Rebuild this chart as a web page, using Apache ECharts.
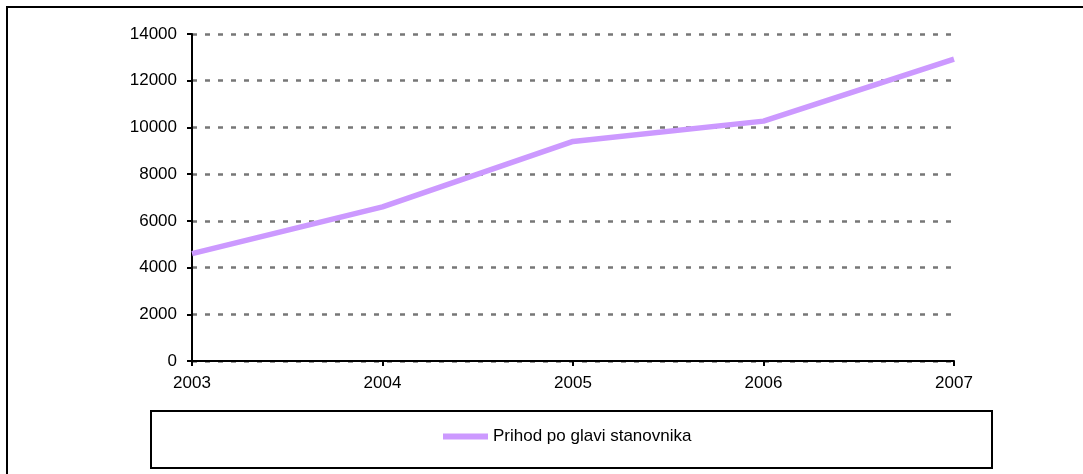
<!DOCTYPE html>
<html>
<head>
<meta charset="utf-8">
<script src="https://cdn.jsdelivr.net/npm/echarts@6/dist/echarts.min.js"></script>
<style>
html,body{margin:0;padding:0;background:#fff;}
#chart{width:1083px;height:474px;}
</style>
</head>
<body>
<div id="chart"></div>
<script>
var categories = ['2003', '2004', '2005', '2006', '2007'];
var seriesName = 'Prihod po glavi stanovnika';
var values = [4600, 6600, 9400, 10270, 12920];
var yTicks = {min: 0, max: 14000, interval: 2000};

var chart = echarts.init(document.getElementById('chart'), null, {renderer: 'canvas'});
var font = '"Liberation Sans", Arial, sans-serif';
chart.setOption({
  animation: false,
  backgroundColor: '#ffffff',
  graphic: [
    {type: 'rect', shape: {x: 7, y: 7, width: 2000, height: 2000}, style: {fill: 'none', stroke: '#000', lineWidth: 2}, silent: true},
    {type: 'rect', shape: {x: 151, y: 411, width: 841, height: 57}, style: {fill: 'none', stroke: '#000', lineWidth: 2}, silent: true}
  ],
  grid: {left: 192, right: 129, top: 34, bottom: 113, containLabel: false},
  legend: {
    data: [seriesName],
    left: 443,
    top: 428,
    padding: 0,
    icon: 'rect',
    itemWidth: 45,
    itemHeight: 6,
    textStyle: {fontFamily: font, fontSize: 17, color: '#000'}
  },
  xAxis: {
    type: 'category',
    data: categories,
    boundaryGap: false,
    axisLine: {lineStyle: {color: '#000', width: 2}},
    axisTick: {show: true, length: 5, alignWithLabel: true, lineStyle: {color: '#000', width: 2}},
    axisLabel: {margin: 14, fontFamily: font, fontSize: 17, color: '#000'},
    splitLine: {show: false}
  },
  yAxis: {
    type: 'value',
    min: yTicks.min,
    max: yTicks.max,
    interval: yTicks.interval,
    axisLine: {show: true, lineStyle: {color: '#000', width: 2}},
    axisTick: {show: true, length: 5, lineStyle: {color: '#000', width: 2}},
    axisLabel: {margin: 15, fontFamily: font, fontSize: 17, color: '#000', formatter: function (v) { return String(v); }},
    splitLine: {show: true, lineStyle: {color: '#777777', width: 2.5, type: [5, 8]}}
  },
  series: [{
    name: seriesName,
    type: 'line',
    data: values,
    showSymbol: false,
    symbol: 'none',
    lineStyle: {color: '#CC99FF', width: 5.5},
    itemStyle: {color: '#CC99FF'}
  }]
});
</script>
</body>
</html>
